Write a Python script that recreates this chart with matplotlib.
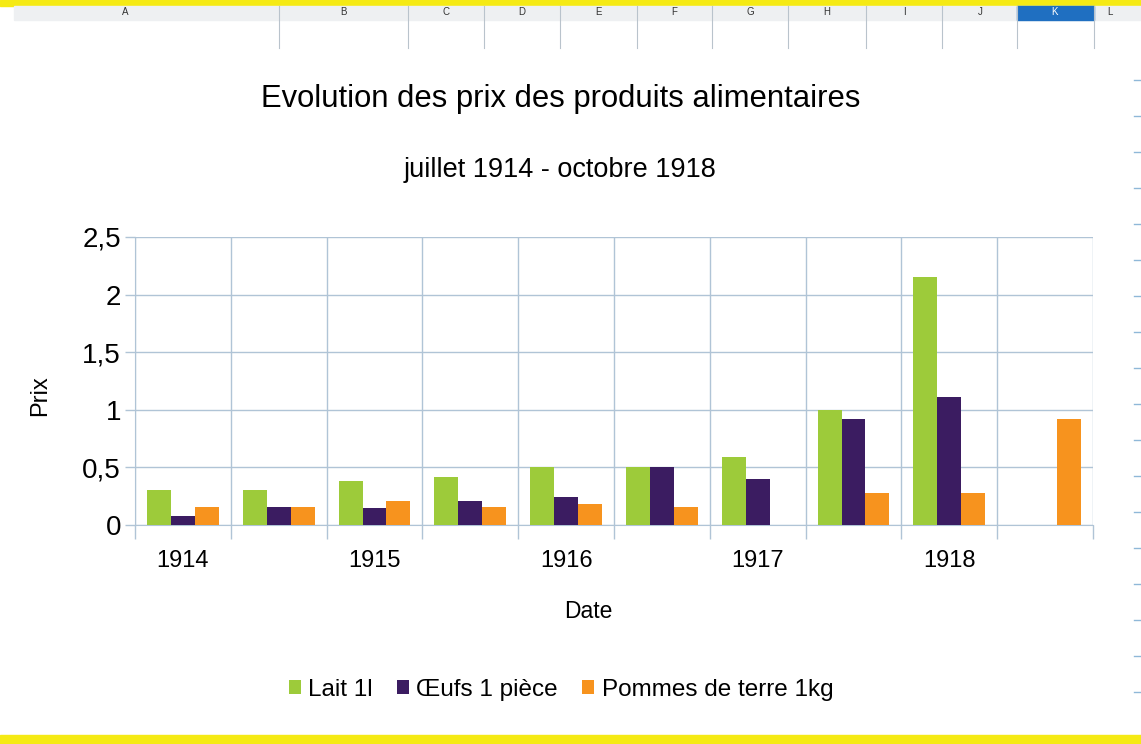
import matplotlib
matplotlib.use("Agg")
from matplotlib import pyplot as plt
from matplotlib.patches import Rectangle
from matplotlib.lines import Line2D
import numpy as np

plt.rcParams['font.family'] = ['Liberation Sans', 'DejaVu Sans']

# donnees
categories = ["1914", "", "1915", "", "1916", "", "1917", "", "1918", ""]
lait = [0.30, 0.30, 0.38, 0.42, 0.50, 0.50, 0.59, 1.00, 2.15, np.nan]
oeufs = [0.08, 0.16, 0.15, 0.21, 0.24, 0.50, 0.40, 0.92, 1.11, np.nan]
pommes = [0.16, 0.16, 0.21, 0.16, 0.18, 0.16, np.nan, 0.28, 0.28, 0.92]
series_names = ["Lait 1l", "Œufs 1 pièce", "Pommes de terre 1kg"]
series_colors = ["#9dcb3a", "#3b1c61", "#f7931e"]

W, H = 1141, 744
fig = plt.figure(figsize=(W / 100, H / 100), dpi=100)

def px(x, y):
    # pixels (depuis le haut) -> coordonnees figure
    return x / W, 1 - y / H

# bandes jaunes et entete de tableur
fig.add_artist(Rectangle(px(0, 6), 1, 6 / H, color="#f5ea14", zorder=0))
fig.add_artist(Rectangle((0, 0), 1, 9 / H, color="#f5ea14", zorder=0))
fig.add_artist(Rectangle(px(14, 20), 1, 14 / H, color="#eef0f2", zorder=0))
fig.add_artist(Rectangle(px(1017, 20), 77 / W, 14 / H, color="#1f6fc1", zorder=1))
cols = [279, 408, 484, 560, 637, 712, 788, 866, 942, 1017, 1094]
for c in cols:
    fig.add_artist(Line2D([c / W, c / W], [1 - 6 / H, 1 - 48 / H], color="#b9c3cc", lw=0.8))
lettres = ["A", "B", "C", "D", "E", "F", "G", "H", "I", "J", "K", "L"]
centres = [125, 343, 446, 522, 598, 674, 750, 827, 904, 980, 1055, 1110]
for l, c in zip(lettres, centres):
    fig.text(c / W, 1 - 12 / H, l, ha="center", va="center", fontsize=7,
             color="white" if l == "K" else "#333333")
for y in range(80, 720, 36):
    fig.add_artist(Line2D([1134 / W, 1141 / W], [1 - y / H, 1 - y / H], color="#8fb8d8", lw=1))

ax = fig.add_axes([135 / W, 219 / H, (1093 - 135) / W, (525 - 237) / H])

x = np.arange(len(categories))
w = 0.25
for k, (vals, name, col) in enumerate(zip([lait, oeufs, pommes], series_names, series_colors)):
    ax.bar(x + (k - 1) * w, vals, w, color=col, label=name, zorder=3)

grid_col = "#b0c4d6"
ax.set_xlim(-0.5, len(categories) - 0.5)
ax.set_ylim(0, 2.5)
ax.set_yticks([0, 0.5, 1, 1.5, 2, 2.5])
ax.set_yticklabels(["0", "0,5", "1", "1,5", "2", "2,5"], fontsize=20)
ax.set_xticks(np.arange(len(categories) + 1) - 0.5)
ax.set_xticklabels([])
ax.set_xticks(x, minor=True)
ax.set_xticklabels(categories, minor=True, fontsize=17)
ax.tick_params(axis="x", which="minor", length=0, pad=18)
ax.tick_params(axis="x", which="major", length=10, color=grid_col, width=1)
ax.tick_params(axis="y", length=7, color=grid_col, width=1, pad=3)
ax.grid(True, which="major", color=grid_col, lw=1, zorder=0)
for s in ax.spines.values():
    s.set_visible(False)
ax.spines["left"].set_visible(True)
ax.spines["left"].set_color(grid_col)
ax.spines["bottom"].set_visible(True)
ax.spines["bottom"].set_color(grid_col)

fig.text(561 / W, 1 - 99 / H, "Evolution des prix des produits alimentaires",
         ha="center", va="center", fontsize=22.3)
fig.text(560 / W, 1 - 170 / H, "juillet 1914 - octobre 1918",
         ha="center", va="center", fontsize=19.5)
fig.text(588 / W, 1 - 611 / H, "Date", ha="center", va="center", fontsize=16.5)
fig.text(40 / W, 1 - 396 / H, "Prix", ha="center", va="center", fontsize=17, rotation=90)

fig.legend(loc="center", bbox_to_anchor=px(561, 690), ncol=3, frameon=False,
           fontsize=17.5, handlelength=0.5, handleheight=0.5, handletextpad=0.3,
           columnspacing=1.0)

fig.savefig("out.png", dpi=100)
